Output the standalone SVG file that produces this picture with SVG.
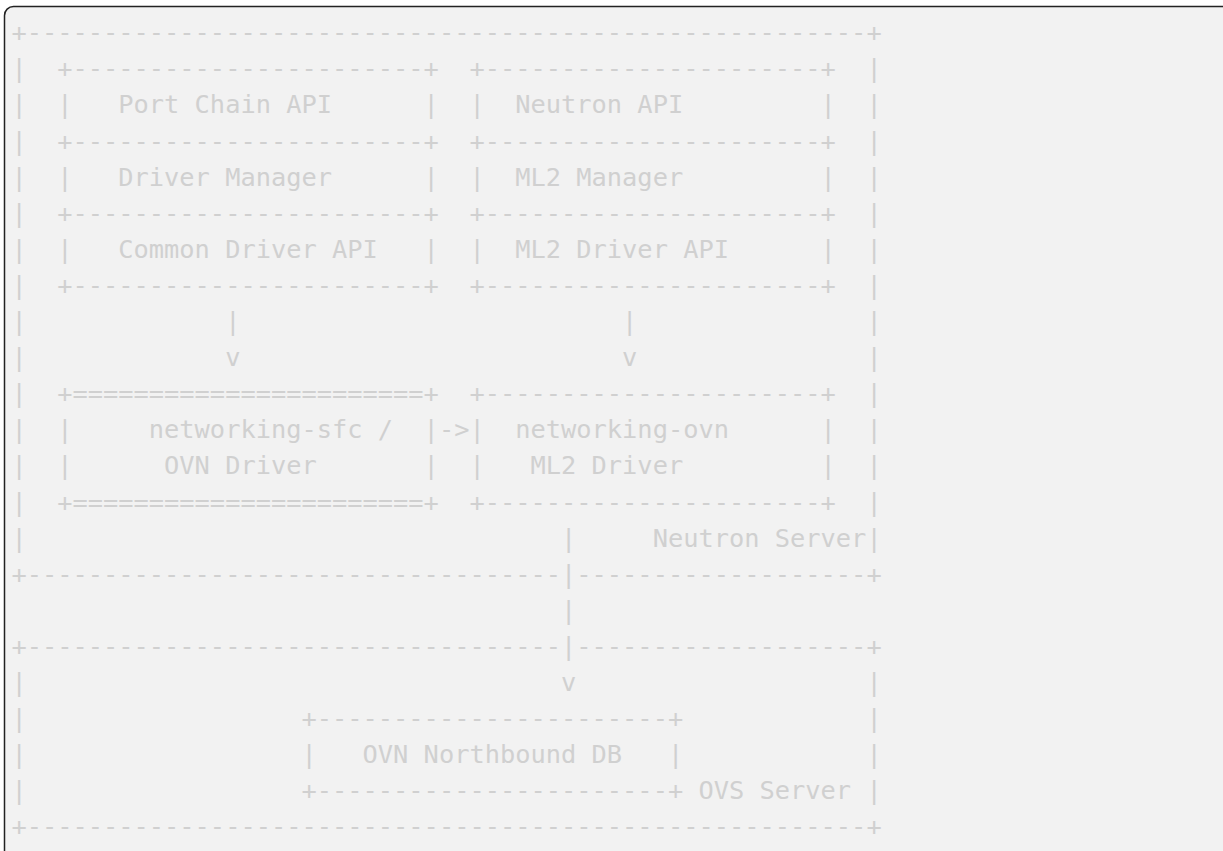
<svg xmlns="http://www.w3.org/2000/svg" width="1223" height="851" viewBox="0 0 1223 851" xml:space="preserve">
<style>
.bg{fill:#f2f2f2;stroke:#222222;stroke-width:1.5}
.t{font-family:"DejaVu Sans Mono","Liberation Mono",monospace;font-size:25.37px;fill:#d0d0d0;white-space:pre}
</style>
<rect width="1223" height="851" fill="#ffffff"/>
<rect class="bg" x="4.5" y="6.5" width="1240" height="870" rx="9"/>
<g id="neutron-server">
<text class="t" x="11.4" y="41.2">+-------------------------------------------------------+</text>
<text class="t" x="11.4" y="77.3">|  +-----------------------+  +----------------------+  |</text>
<text class="t" x="11.4" y="113.4">|  |   Port Chain API      |  |  Neutron API         |  |</text>
<text class="t" x="11.4" y="149.5">|  +-----------------------+  +----------------------+  |</text>
<text class="t" x="11.4" y="185.6">|  |   Driver Manager      |  |  ML2 Manager         |  |</text>
<text class="t" x="11.4" y="221.7">|  +-----------------------+  +----------------------+  |</text>
<text class="t" x="11.4" y="257.8">|  |   Common Driver API   |  |  ML2 Driver API      |  |</text>
<text class="t" x="11.4" y="293.9">|  +-----------------------+  +----------------------+  |</text>
<text class="t" x="11.4" y="330.0">|             |                         |               |</text>
<text class="t" x="11.4" y="366.1">|             v                         v               |</text>
<text class="t" x="11.4" y="402.2">|  +=======================+  +----------------------+  |</text>
<text class="t" x="11.4" y="438.3">|  |     networking-sfc /  |-&gt;|  networking-ovn      |  |</text>
<text class="t" x="11.4" y="474.4">|  |      OVN Driver       |  |   ML2 Driver         |  |</text>
<text class="t" x="11.4" y="510.5">|  +=======================+  +----------------------+  |</text>
<text class="t" x="11.4" y="546.6">|                                   |     Neutron Server|</text>
<text class="t" x="11.4" y="582.7">+-----------------------------------|-------------------+</text>
</g>
<g id="connectors">
<text class="t" x="11.4" y="618.8">                                    |</text>
</g>
<g id="ovs-server">
<text class="t" x="11.4" y="654.9">+-----------------------------------|-------------------+</text>
<text class="t" x="11.4" y="691.0">|                                   v                   |</text>
<text class="t" x="11.4" y="727.1">|                  +-----------------------+            |</text>
<text class="t" x="11.4" y="763.2">|                  |   OVN Northbound DB   |            |</text>
<text class="t" x="11.4" y="799.3">|                  +-----------------------+ OVS Server |</text>
<text class="t" x="11.4" y="835.4">+-------------------------------------------------------+</text>
</g>
</svg>
